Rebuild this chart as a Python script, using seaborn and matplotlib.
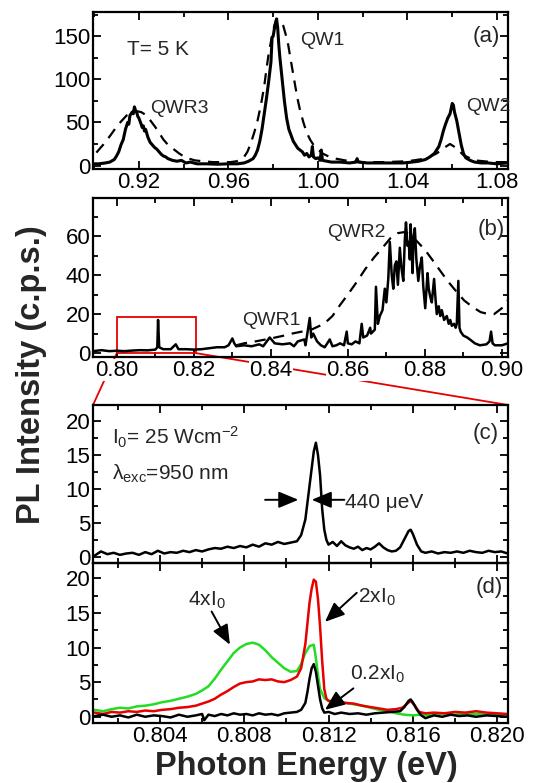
import matplotlib
matplotlib.use('Agg')
import matplotlib.pyplot as plt
import seaborn as sns
from matplotlib.ticker import MultipleLocator
from matplotlib.patches import Rectangle, ConnectionPatch

# ---- panel (a): overview spectrum, solid + dashed
a_x = [0.8995, 0.902, 0.905, 0.907, 0.909, 0.910, 0.911, 0.912, 0.913, 0.914, 0.915, 0.9155, 0.916,
       0.917, 0.9175, 0.918, 0.9185, 0.919, 0.9195, 0.920, 0.921, 0.9215, 0.922, 0.9225, 0.923, 0.924,
       0.925, 0.926, 0.927, 0.928, 0.929, 0.930, 0.931, 0.932, 0.933, 0.935, 0.937, 0.939, 0.941, 0.943,
       0.946, 0.950, 0.955, 0.960, 0.964, 0.967, 0.969, 0.971, 0.972, 0.973, 0.974, 0.975, 0.976, 0.977,
       0.978, 0.979, 0.9795, 0.980, 0.9805, 0.981, 0.9815, 0.982, 0.9825, 0.983, 0.984, 0.985, 0.986,
       0.987, 0.988, 0.989, 0.990, 0.991, 0.992, 0.993, 0.994, 0.995, 0.996, 0.997, 0.9975, 0.998, 0.999,
       1.000, 1.001, 1.0015, 1.002, 1.004, 1.006, 1.010, 1.014, 1.017, 1.0175, 1.018, 1.022, 1.026, 1.030,
       1.034, 1.038, 1.042, 1.045, 1.048, 1.050, 1.052, 1.054, 1.055, 1.056, 1.057, 1.058, 1.059, 1.0595,
       1.060, 1.0605, 1.061, 1.062, 1.063, 1.064, 1.065, 1.066, 1.068, 1.070, 1.073, 1.076, 1.080, 1.0845]
a_solid = [2, 2, 3, 4, 7, 11, 16, 24, 30, 42, 50, 48, 58,
           62, 60, 68, 64, 62, 57, 55, 48, 44, 46, 40, 42, 33,
           27, 24, 21, 19, 16, 13, 11, 10, 8, 6, 5, 6, 3, 4,
           2, 2, 1.5, 2, 2, 3, 5, 8, 12, 18, 28, 42, 60, 78,
           98, 120, 148, 150, 158, 165, 170, 160, 140, 125, 100, 75, 55,
           42, 35, 28, 24, 20, 18, 16, 12, 14, 10, 12, 22, 10, 8,
           9, 6, 18, 6, 5, 4, 4, 3, 4, 8, 4, 3, 3, 3,
           3, 3, 4, 5, 7, 10, 14, 22, 30, 40, 48, 55, 60, 66,
           72, 70, 62, 52, 38, 24, 14, 9, 6, 4, 3, 3, 2, 3]

ad_x = [0.901, 0.904, 0.907, 0.9095, 0.912, 0.9145, 0.917, 0.919, 0.921, 0.9235, 0.9255, 0.9275,
        0.9295, 0.931, 0.933, 0.9355, 0.938, 0.941, 0.945, 0.9485, 0.953, 0.9575, 0.961, 0.9637,
        0.9655, 0.967, 0.9685, 0.970, 0.9715, 0.973, 0.9745, 0.976, 0.977, 0.978, 0.9793, 0.9805,
        0.9816, 0.983, 0.9845, 0.9858, 0.9867, 0.988, 0.989, 0.990, 0.991, 0.992, 0.9935, 0.995,
        0.9965, 0.998, 0.9995, 1.002, 1.006, 1.012, 1.020, 1.030, 1.040, 1.048, 1.053, 1.056,
        1.059, 1.062, 1.065, 1.070, 1.078, 1.0845]
a_dashed = [15, 24, 34, 43, 51, 58, 62, 63, 62, 58, 51, 44,
            36, 30, 24, 19, 14, 9, 6, 5, 4, 4, 4, 5,
            7, 10, 16, 26, 38, 52, 70, 92, 112, 130, 148, 162,
            170, 168, 162, 150, 140, 120, 105, 90, 76, 64, 50, 38,
            30, 24, 20, 14, 9, 6, 4, 4, 5, 8, 14, 20,
            25, 20, 12, 6, 4, 4]

# ---- panel (b)
b_x = [0.7938, 0.796, 0.798, 0.800, 0.802, 0.804, 0.806, 0.808, 0.810, 0.8105, 0.8107, 0.811, 0.812,
       0.814, 0.8153, 0.816, 0.818, 0.820, 0.822, 0.824, 0.826, 0.828, 0.829, 0.830, 0.8305, 0.831,
       0.833, 0.835, 0.837, 0.838, 0.8397, 0.841, 0.843, 0.845, 0.846, 0.847, 0.8487, 0.849, 0.8501,
       0.8505, 0.851, 0.852, 0.853, 0.854, 0.8553, 0.856, 0.857, 0.858, 0.859, 0.8597, 0.860, 0.861,
       0.862, 0.863, 0.8636, 0.864, 0.865, 0.8658, 0.866, 0.867, 0.8673, 0.8678, 0.8683, 0.869, 0.8696,
       0.870, 0.8705, 0.8709, 0.8714, 0.8718, 0.8722, 0.8726, 0.873, 0.8735, 0.8739, 0.8744, 0.8748,
       0.8751, 0.8755, 0.8758, 0.8761, 0.8763, 0.8766, 0.8768, 0.8771, 0.8774, 0.8778, 0.8783, 0.8787,
       0.8792, 0.8796, 0.8801, 0.8804, 0.8807, 0.881, 0.8814, 0.8818, 0.8824, 0.8828, 0.8831, 0.8836,
       0.884, 0.8844, 0.885, 0.8857, 0.8862, 0.8866, 0.887, 0.8876, 0.888, 0.8883, 0.8887, 0.889,
       0.8893, 0.890, 0.891, 0.8917, 0.893, 0.8943, 0.896, 0.8968, 0.8972, 0.8976, 0.8982, 0.900, 0.9016]
b_solid = [1, 1.5, 1, 1.2, 1, 1.3, 1.5, 1.4, 1.8, 3, 17, 3, 2,
           2, 4.5, 2, 2, 1.8, 2, 2.5, 3, 3, 4, 7.5, 5, 3.5,
           4, 3.5, 4.5, 3.5, 8, 5, 4.5, 5, 3.5, 6, 7, 4, 18,
           8, 10, 6, 4, 3, 7, 3.5, 4, 5, 4, 11, 5, 4.5,
           6, 5, 15, 8, 9, 13, 10, 12, 34, 15, 19, 22, 33,
           26, 38, 57, 40, 33, 45, 47, 35, 54, 44, 37, 58,
           67, 55, 57, 48, 66, 52, 41, 60, 64, 48, 37, 44,
           49, 34, 23, 32, 41, 33, 29, 26, 38, 27, 20, 24,
           19, 22, 17, 19, 15, 17, 14, 15, 13, 15, 37, 13,
           11, 9, 8, 7, 5, 4, 4.5, 6, 11, 5, 4, 4, 5]

bd_x = [0.831, 0.833, 0.836, 0.840, 0.8435, 0.8455, 0.848, 0.8505, 0.8538, 0.856, 0.8581, 0.860,
        0.8625, 0.8645, 0.8668, 0.869, 0.8711, 0.873, 0.8746, 0.876, 0.8781, 0.880, 0.8815, 0.8837,
        0.8859, 0.888, 0.8902, 0.8925, 0.8945, 0.8965, 0.898, 0.900, 0.9016]
b_dashed = [4, 5, 6, 7.5, 9, 10, 11, 12, 15, 19, 25, 30,
            37, 43, 49, 54, 59, 61.5, 62, 61, 57, 53, 49, 43,
            37, 32, 27, 23.5, 21, 20, 20, 23, 27]

# ---- panel (c): zoom, I0 = 25 W/cm2
c_x = [0.8009, 0.8012, 0.8015, 0.8018, 0.8021, 0.8024, 0.8027, 0.803, 0.8033, 0.8036, 0.8039, 0.8042,
       0.8045, 0.8048, 0.8051, 0.8054, 0.8057, 0.806, 0.8063, 0.8066, 0.8069, 0.8072, 0.8075, 0.8078,
       0.8081, 0.8084, 0.8087, 0.809, 0.8093, 0.8096, 0.8099, 0.8102, 0.8105, 0.8107, 0.8109, 0.811,
       0.8111, 0.8112, 0.8113, 0.8114, 0.8115, 0.8116, 0.8117, 0.8118, 0.8119, 0.812, 0.8122, 0.8124,
       0.8126, 0.8128, 0.813, 0.8132, 0.8134, 0.8136, 0.8138, 0.814, 0.8142, 0.8144, 0.8146, 0.8148,
       0.815, 0.8152, 0.8154, 0.8156, 0.8158, 0.8159, 0.816, 0.8162, 0.8164, 0.8166, 0.8169, 0.8172,
       0.8175, 0.8178, 0.8181, 0.8184, 0.8187, 0.819, 0.8193, 0.8196, 0.8199, 0.8202, 0.8205]
c_y = [0.2, 0.8, 0.4, 0.6, 0.3, 0.5, 0.6, 0.3, 0.7, 0.4, 0.9, 0.5,
       0.7, 0.6, 0.9, 0.7, 1.0, 0.8, 1.1, 1.3, 1.2, 1.5, 1.3, 1.6,
       1.4, 1.8, 1.5, 2.0, 1.8, 2.2, 1.9, 2.1, 2.3, 3.2, 5.5, 8.0,
       10.5, 13.0, 15.5, 16.8, 15.0, 12.0, 7.0, 4.0, 2.5, 1.8, 2.2, 1.6,
       2.3, 1.7, 1.4, 1.2, 1.5, 1.0, 1.3, 1.1, 1.5, 2.0, 1.4, 1.0,
       0.8, 0.9, 1.4, 2.6, 3.8, 4.0, 3.4, 1.8, 0.8, 0.6, 0.8, 0.5,
       0.7, 0.6, 0.8, 0.6, 0.9, 0.7, 0.6, 0.9, 0.7, 0.8, 0.5]

# ---- panel (d): power dependence
g_x = [0.8009, 0.8013, 0.8017, 0.8021, 0.8025, 0.8029, 0.8033, 0.8037, 0.8041, 0.8045, 0.8049, 0.8053,
       0.8057, 0.806, 0.8063, 0.8066, 0.8069, 0.8072, 0.8075, 0.8078, 0.8081, 0.8084, 0.8087, 0.809,
       0.8093, 0.8096, 0.8099, 0.8102, 0.8105, 0.8107, 0.8109, 0.8111, 0.8113, 0.8114, 0.8115, 0.8116,
       0.8118, 0.812, 0.8124, 0.8128, 0.8132, 0.8136, 0.814, 0.8144, 0.8148, 0.8152, 0.8156, 0.816,
       0.8164, 0.8168, 0.8172, 0.8176, 0.818, 0.8185, 0.819, 0.8195, 0.82, 0.8205]
g_y = [1.0, 0.8, 1.1, 1.3, 1.2, 1.5, 1.6, 1.8, 2.1, 2.3, 2.6, 2.9,
       3.3, 3.8, 4.4, 5.5, 6.8, 8.0, 9.2, 10.0, 10.5, 10.7, 10.4, 9.6,
       8.6, 7.8, 7.0, 6.5, 6.6, 7.6, 9.2, 10.2, 10.4, 8.5, 6.0, 4.0,
       2.7, 2.3, 2.1, 2.0, 1.8, 1.6, 1.3, 1.0, 0.8, 0.5, 0.3, 0.2,
       0.3, 0.2, 0.4, 0.5, 0.3, 0.5, 0.4, 0.3, 0.4, 0.3]

r_x = [0.8009, 0.8013, 0.8017, 0.8021, 0.8025, 0.8029, 0.8033, 0.8037, 0.8041, 0.8045, 0.8049, 0.8053,
       0.8057, 0.806, 0.8063, 0.8066, 0.8069, 0.8072, 0.8075, 0.8078, 0.8081, 0.8084, 0.8087, 0.809,
       0.8093, 0.8096, 0.8099, 0.8102, 0.8105, 0.8107, 0.8109, 0.811, 0.8111, 0.8112, 0.8113, 0.8114,
       0.8115, 0.8116, 0.8117, 0.8118, 0.8119, 0.812, 0.8124, 0.8128, 0.8132, 0.8136, 0.814, 0.8144,
       0.8148, 0.8152, 0.8155, 0.8157, 0.8159, 0.8161, 0.8163, 0.8166, 0.817, 0.8175, 0.818, 0.8185,
       0.819, 0.8195, 0.82, 0.8205]
r_y = [0.6, 0.4, 0.7, 0.6, 0.8, 0.7, 0.9, 0.8, 1.0, 1.1, 1.3, 1.4,
       1.6, 1.9, 2.2, 2.6, 3.2, 3.7, 4.3, 4.8, 5.0, 5.1, 5.4, 5.3,
       5.4, 5.1, 5.0, 5.3, 5.8, 7.0, 10.5, 13.5, 16.5, 18.5, 19.8, 19.5,
       17.0, 13.0, 8.0, 4.0, 2.6, 2.3, 2.1, 2.0, 1.9, 1.6, 1.4, 1.2,
       1.0, 1.1, 1.3, 1.8, 2.3, 1.6, 0.7, 0.5, 0.6, 0.5, 0.7, 0.6,
       0.8, 0.6, 0.5, 0.4]

k_x = [0.8009, 0.8013, 0.8017, 0.8021, 0.8025, 0.8029, 0.8033, 0.8037, 0.8041, 0.8045, 0.8049, 0.8053,
       0.8057, 0.806, 0.8061, 0.8063, 0.8066, 0.8069, 0.8072, 0.8075, 0.8078, 0.8081, 0.8084, 0.8087,
       0.809, 0.8093, 0.8096, 0.8099, 0.8102, 0.8105, 0.8107, 0.8109, 0.811, 0.8111, 0.8112, 0.8113,
       0.8114, 0.8115, 0.8116, 0.8117, 0.8118, 0.812, 0.8123, 0.8126, 0.813, 0.8134, 0.8138, 0.8142,
       0.8146, 0.815, 0.8154, 0.8156, 0.8158, 0.8159, 0.816, 0.8162, 0.8164, 0.8166, 0.817, 0.8174,
       0.8178, 0.8182, 0.8186, 0.819, 0.8195, 0.82, 0.8205]
k_y = [0.1, 0.3, 0.0, 0.2, -0.1, 0.3, 0.0, 0.2, 0.1, -0.1, 0.3, 0.0,
       0.2, 0.4, -0.5, 0.3, 0.1, 0.4, 0.2, 0.5, 0.3, 0.4, 0.2, 0.5,
       0.3, 0.4, 0.2, 0.5, 0.6, 0.7, 1.0, 2.0, 3.6, 5.5, 7.0, 7.6,
       6.5, 4.5, 2.5, 1.2, 0.6, 0.7, 0.4, 0.6, 0.4, 0.5, 0.3, 0.5,
       0.6, 0.7, 0.8, 1.4, 2.3, 2.5, 2.1, 1.0, 0.2, -0.2, 0.2, 0.0,
       0.3, 0.1, 0.2, 0.0, 0.2, 0.1, 0.0]

sns.set_theme(style='ticks')
plt.rcParams['font.family'] = ['Liberation Sans', 'DejaVu Sans']
plt.rcParams['mathtext.fontset'] = 'custom'
plt.rcParams['mathtext.rm'] = 'Liberation Sans'
plt.rcParams['mathtext.default'] = 'regular'
plt.rcParams['axes.linewidth'] = 1.6
plt.rcParams['axes.edgecolor'] = 'black'

W, H = 537, 783
fig = plt.figure(figsize=(W / 100, H / 100), dpi=100)
fig.patch.set_facecolor('white')


def box(top, bottom):
    return [93 / W, 1 - bottom / H, 415 / W, (bottom - top) / H]


axa = fig.add_axes(box(12, 169))
axb = fig.add_axes(box(198, 357))
axc = fig.add_axes(box(405, 563))
axd = fig.add_axes(box(563, 723))

red = '#e60000'
green = '#22dd22'
dash = (0, (5, 3.5))

sns.lineplot(x=ad_x, y=a_dashed, ax=axa, color='black', lw=1.6, linestyle=dash, estimator=None, sort=False)
sns.lineplot(x=a_x, y=a_solid, ax=axa, color='black', lw=2.2, estimator=None, sort=False)

sns.lineplot(x=bd_x, y=b_dashed, ax=axb, color='black', lw=1.6, linestyle=dash, estimator=None, sort=False)
sns.lineplot(x=b_x, y=b_solid, ax=axb, color='black', lw=1.8, estimator=None, sort=False)

sns.lineplot(x=c_x, y=c_y, ax=axc, color='black', lw=1.8, estimator=None, sort=False)

sns.lineplot(x=g_x, y=g_y, ax=axd, color=green, lw=1.8, estimator=None, sort=False)
sns.lineplot(x=r_x, y=r_y, ax=axd, color=red, lw=1.8, estimator=None, sort=False)
sns.lineplot(x=k_x, y=k_y, ax=axd, color='black', lw=1.8, estimator=None, sort=False)

axa.set_xlim(0.8995, 1.0849)
axa.set_ylim(-4, 178)
axa.set_xticks([0.92, 0.96, 1.00, 1.04, 1.08], ['0.92', '0.96', '1.00', '1.04', '1.08'])
axa.xaxis.set_minor_locator(MultipleLocator(0.02))
axa.yaxis.set_major_locator(MultipleLocator(50))
axa.yaxis.set_minor_locator(MultipleLocator(25))

axb.set_xlim(0.7938, 0.9016)
axb.set_ylim(-2, 79.5)
axb.set_xticks([0.80, 0.82, 0.84, 0.86, 0.88, 0.90], ['0.80', '0.82', '0.84', '0.86', '0.88', '0.90'])
axb.xaxis.set_minor_locator(MultipleLocator(0.01))
axb.yaxis.set_major_locator(MultipleLocator(20))
axb.yaxis.set_minor_locator(MultipleLocator(10))

for ax in (axc, axd):
    ax.set_xlim(0.80082, 0.82052)
    ax.set_xticks([0.804, 0.808, 0.812, 0.816, 0.820], ['0.804', '0.808', '0.812', '0.816', '0.820'])
    ax.xaxis.set_minor_locator(MultipleLocator(0.002))
    ax.yaxis.set_major_locator(MultipleLocator(5))
    ax.yaxis.set_minor_locator(MultipleLocator(2.5))
axc.set_ylim(-0.9, 22.35)
axd.set_ylim(-0.9, 22.2)

for ax in (axa, axb, axc, axd):
    ax.set_facecolor('none')
    ax.tick_params(which='both', direction='in', top=True, right=True, width=1.3,
                   labelsize=16, pad=2, colors='black')
    ax.tick_params(which='major', length=6)
    ax.tick_params(which='minor', length=3.5)
    for s in ax.spines.values():
        s.set_linewidth(1.6)
        s.set_color('black')
axc.tick_params(labelbottom=False)

# panel texts
axa.text(0.9146, 128, 'T= 5 K', fontsize=15)
axa.text(0.925, 61, 'QWR3', fontsize=14)
axa.text(0.992, 140, 'QW1', fontsize=14)
axa.text(1.0663, 63, 'QW2', fontsize=14)
axa.text(1.0815, 150, '(a)', fontsize=16, ha='right', va='center')

axb.text(0.8545, 59.5, 'QWR2', fontsize=14)
axb.text(0.8325, 14.4, 'QWR1', fontsize=14)
axb.text(0.9008, 63.6, '(b)', fontsize=16, ha='right', va='center')
axb.add_patch(Rectangle((0.80, 0), 0.0205, 18.6, fill=False, ec=red, lw=1.3))

axc.text(0.8017, 16.5, 'I$_0$= 25 Wcm$^{-2}$', fontsize=15)
axc.text(0.8017, 11.3, 'λ$_{exc}$=950 nm', fontsize=15)
axc.text(0.8128, 7.2, '440 μeV', fontsize=15)
axc.text(0.8201, 18.2, '(c)', fontsize=16, ha='right', va='center')
arrow = dict(arrowstyle='-|>,head_length=0.6,head_width=0.25', mutation_scale=20,
             color='black', lw=1.4, shrinkA=0, shrinkB=0)
axc.annotate('', xy=(0.81057, 8.4), xytext=(0.80899, 8.4), arrowprops=arrow)
axc.annotate('', xy=(0.81120, 8.4), xytext=(0.81275, 8.4), arrowprops=arrow)

axd.text(0.80533, 16.1, '4xI$_0$', fontsize=15)
axd.text(0.8134, 16.4, '2xI$_0$', fontsize=15)
axd.text(0.8130, 5.3, '0.2xI$_0$', fontsize=15)
axd.text(0.8203, 18.6, '(d)', fontsize=16, ha='right', va='center')
axd.annotate('', xy=(0.80732, 10.4), xytext=(0.80645, 15.2), arrowprops=arrow)
axd.annotate('', xy=(0.81183, 13.7), xytext=(0.81334, 17.9), arrowprops=arrow)
axd.annotate('', xy=(0.81183, 1.0), xytext=(0.81318, 4.1), arrowprops=arrow)

# zoom connectors from the red box to panel (c)
for xb, xc in ((0.80, 0), (0.8205, 1)):
    con = ConnectionPatch(xyA=(xb, 0), coordsA=axb.transData, xyB=(xc, 1), coordsB=axc.transAxes,
                          color=red, lw=1.3, zorder=-1)
    fig.add_artist(con)

fig.text(32 / W, 1 - 375 / H, 'PL Intensity (c.p.s.)', rotation=90, fontsize=23.5,
         fontweight='bold', ha='center', va='center')
fig.text(306 / W, 1 - 766 / H, 'Photon Energy (eV)', fontsize=23.5,
         fontweight='bold', ha='center', va='center')

fig.canvas.draw()
for lbl in axb.get_xticklabels():
    lbl.set_bbox(dict(facecolor='white', edgecolor='none', pad=0.5))

fig.savefig('out.png', dpi=100, facecolor='white')
